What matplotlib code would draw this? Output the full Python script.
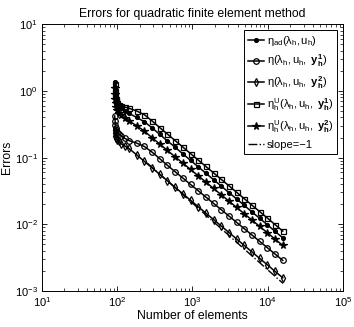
import numpy as np
import matplotlib
matplotlib.use('Agg')
import matplotlib.pyplot as plt

plt.rcParams['font.family'] = ['Liberation Sans', 'DejaVu Sans']
plt.rcParams['mathtext.fontset'] = 'custom'
plt.rcParams['mathtext.rm'] = 'Liberation Sans'
plt.rcParams['mathtext.it'] = 'Liberation Sans'
plt.rcParams['mathtext.bf'] = 'Liberation Sans:bold'

# number of elements on the adaptive meshes
n_elem = [93, 94, 95, 96, 98, 101, 106, 114, 126, 144, 182, 230, 291, 368, 466,
          590, 746, 944, 1194, 1510, 1910, 2416, 3057, 3867, 4891, 6188, 7827,
          9901, 12525, 15844]

eta_ad = [1.38, 1.15, 0.98, 0.85, 0.74, 0.66, 0.60, 0.55, 0.50, 0.46, 0.40,
          0.345, 0.28, 0.223, 0.178, 0.143, 0.114, 0.091, 0.0729, 0.0583,
          0.0467, 0.0374, 0.0299, 0.0240, 0.0192, 0.0153, 0.0123, 0.00983,
          0.00784, 0.00627]
eta_y1 = [0.42, 0.36, 0.31, 0.28, 0.255, 0.24, 0.225, 0.21, 0.195, 0.18, 0.165,
          0.147, 0.121, 0.0965, 0.0766, 0.0614, 0.0494, 0.0396, 0.0319, 0.0256,
          0.0206, 0.0166, 0.0133, 0.0107, 0.00859, 0.00690, 0.00555, 0.00446,
          0.00358, 0.00288]
eta_y2 = [0.26, 0.23, 0.21, 0.20, 0.195, 0.185, 0.175, 0.16, 0.15, 0.137, 0.110,
          0.0879, 0.0703, 0.0562, 0.0450, 0.0359, 0.0287, 0.0230, 0.0184,
          0.0147, 0.0118, 0.00942, 0.00754, 0.00603, 0.00482, 0.00385, 0.00308,
          0.00247, 0.00197, 0.00158]
etaU_y1 = [1.25, 1.00, 0.85, 0.76, 0.70, 0.66, 0.62, 0.60, 0.575, 0.55, 0.50,
           0.44, 0.355, 0.282, 0.225, 0.180, 0.144, 0.115, 0.0920, 0.0736,
           0.0590, 0.0472, 0.0378, 0.0302, 0.0242, 0.0193, 0.0155, 0.0124,
           0.00989, 0.00791]
etaU_y2 = [1.10, 0.90, 0.76, 0.66, 0.58, 0.52, 0.47, 0.43, 0.39, 0.355, 0.30,
           0.25, 0.199, 0.160, 0.128, 0.1028, 0.0828, 0.0664, 0.0534, 0.0430,
           0.0345, 0.0277, 0.0223, 0.0179, 0.0144, 0.01156, 0.00929, 0.00746,
           0.00600, 0.00482]

slope_x = [250, 16000]
slope_y = [0.0832, 0.0013]

labels = [r'$\eta_{ad}(\lambda_h,u_h)$',
          r'$\eta(\lambda_h,u_h,\ \mathbf{y}_\mathbf{h}^\mathbf{1})$',
          r'$\eta(\lambda_h,u_h,\ \mathbf{y}_\mathbf{h}^\mathbf{2})$',
          r'$\eta_h^U(\lambda_h,u_h,\ \mathbf{y}_\mathbf{h}^\mathbf{1})$',
          r'$\eta_h^U(\lambda_h,u_h,\ \mathbf{y}_\mathbf{h}^\mathbf{2})$',
          'slope=\u22121']

fig = plt.figure(figsize=(3.54, 3.27), dpi=100)
ax = fig.add_axes([0.118, 0.110, 0.851, 0.816])

kw = dict(color='black', lw=1.1, mew=0.9)
ax.loglog(n_elem, eta_ad, marker='o', ms=2.8, mfc='black', label=labels[0], **kw)
ax.loglog(n_elem, eta_y1, marker='o', ms=4, mfc='none', label=labels[1], **kw)
ax.loglog(n_elem, eta_y2, marker='d', ms=4, mfc='none', label=labels[2], **kw)
ax.loglog(n_elem, etaU_y1, marker='s', ms=3.6, mfc='none', label=labels[3], **kw)
ax.loglog(n_elem, etaU_y2, marker='*', ms=5.5, mfc='black', label=labels[4], **kw)
ax.loglog(slope_x, slope_y, color='black', lw=1.0, ls='-.', label=labels[5])

ax.set_xlim(10, 1e5)
ax.set_ylim(1e-3, 10)
ax.tick_params(which='both', direction='in', top=True, right=True, labelsize=8)
ax.tick_params(which='major', length=3.5, width=0.6, pad=3)
ax.tick_params(which='minor', length=2, width=0.5)
for s in ax.spines.values():
    s.set_linewidth(0.7)

ax.set_xlabel('Number of elements', fontsize=8.8, labelpad=1)
ax.set_ylabel('Errors', fontsize=8.8, labelpad=1)
ax.set_title('Errors for quadratic finite element method', fontsize=8.8, pad=5)

leg = ax.legend(loc='upper right', fontsize=8, frameon=True, fancybox=False,
                edgecolor='black', framealpha=1, handlelength=1.4,
                handletextpad=0.3, labelspacing=0.45, borderaxespad=0.5,
                borderpad=0.35)
leg.get_frame().set_linewidth(0.7)

fig.savefig('out.png', dpi=100)
